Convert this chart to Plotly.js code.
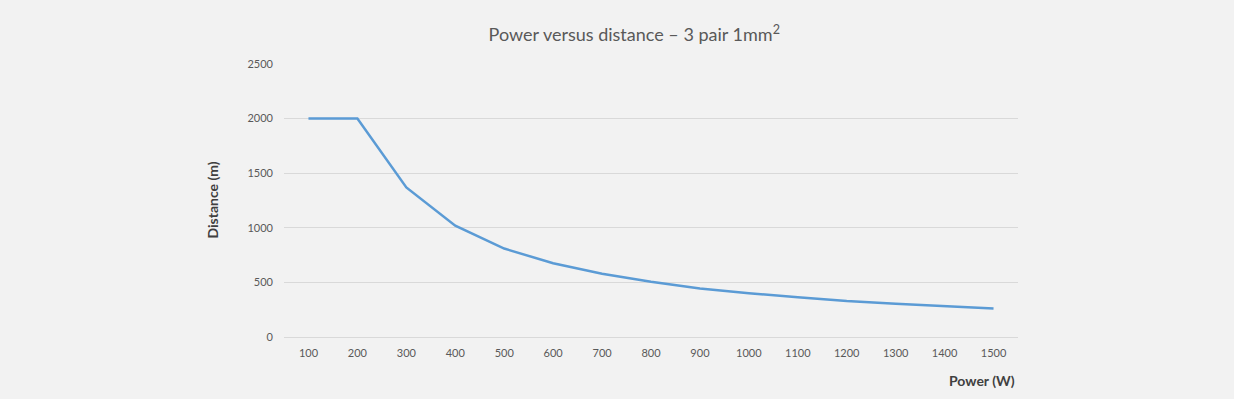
<!DOCTYPE html>
<html>
<head>
<meta charset="utf-8">
<script src="https://cdn.plot.ly/plotly-3.0.1.min.js"></script>
<style>html,body{margin:0;padding:0;background:#f2f2f2;}#chart{width:1234px;height:399px;}</style>
</head>
<body>
<div id="chart"></div>
<script>
const powerLabels = ["100","200","300","400","500","600","700","800","900","1000","1100","1200","1300","1400","1500"];
const distance = [2000, 2000, 1370, 1020, 810, 675, 580, 505, 445, 400, 365, 330, 305, 283, 260];
const yTicks = [0, 500, 1000, 1500, 2000, 2500];

const font = "Lato, 'Open Sans', sans-serif";
const trace = {
  x: powerLabels,
  y: distance,
  type: "scatter",
  mode: "lines",
  line: {color: "#5b9bd5", width: 2.5},
  hoverinfo: "x+y"
};
const layout = {
  width: 1234, height: 399,
  paper_bgcolor: "#f2f2f2", plot_bgcolor: "#f2f2f2",
  margin: {l: 284, r: 216, t: 64, b: 62},
  showlegend: false,
  title: {text: "Power versus distance – 3 pair 1mm<sup>2</sup>", font: {family: font, size: 18, color: "#595959"}, x: 0.514, xanchor: "center", y: 0.912, yanchor: "middle"},
  xaxis: {type: "category", range: [-0.5, 14.5], showgrid: false, zeroline: false, showline: false, ticks: "", tickfont: {family: font, size: 11, color: "#595959"}, ticklabelstandoff: 8, fixedrange: true},
  yaxis: {range: [0, 2500], tickvals: yTicks, ticktext: yTicks.map(String), showgrid: true, gridcolor: "#d9d9d9", gridwidth: 1, zeroline: true, zerolinecolor: "#d9d9d9", zerolinewidth: 1, showline: false, ticks: "", tickfont: {family: font, size: 11, color: "#595959"}, ticklabelstandoff: 10, fixedrange: true},
  annotations: [
    {text: "<b>Distance (m)</b>", xref: "paper", yref: "paper", x: -0.098, y: 0.5, xanchor: "center", yanchor: "middle", textangle: -90, showarrow: false, font: {family: font, size: 14, color: "#404040"}},
    {text: "<b>Power (W)</b>", xref: "paper", yref: "paper", x: 0.998, y: -0.16, xanchor: "right", yanchor: "middle", showarrow: false, font: {family: font, size: 14, color: "#404040"}}
  ]
};
Plotly.newPlot("chart", [trace], layout, {displayModeBar: false, staticPlot: true});
</script>
</body>
</html>
